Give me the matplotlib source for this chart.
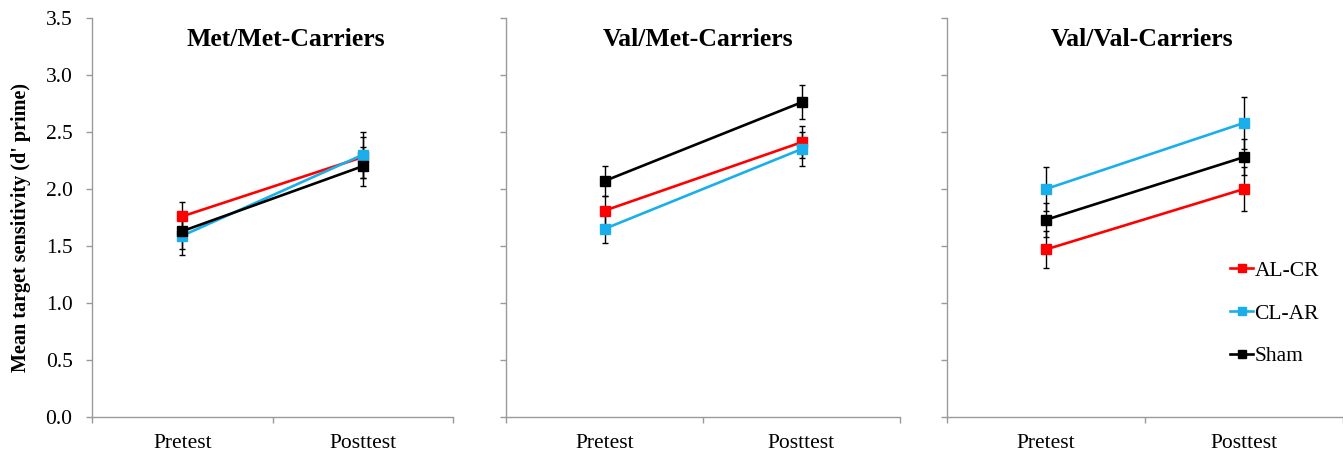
import matplotlib
matplotlib.use('Agg')
import matplotlib.pyplot as plt
from matplotlib.lines import Line2D

# data
groups   = ['Met/Met-Carriers', 'Val/Met-Carriers', 'Val/Val-Carriers']
sessions = ['Pretest', 'Posttest']

al_cr_mean = [[1.76, 2.28], [1.81, 2.41], [1.47, 2.00]]
al_cr_err  = [[0.13, 0.18], [0.13, 0.14], [0.16, 0.19]]
cl_ar_mean = [[1.59, 2.30], [1.65, 2.35], [2.00, 2.58]]
cl_ar_err  = [[0.17, 0.20], [0.12, 0.15], [0.19, 0.23]]
sham_mean  = [[1.63, 2.20], [2.07, 2.76], [1.73, 2.28]]
sham_err   = [[0.16, 0.17], [0.13, 0.15], [0.15, 0.16]]

series = [
    ('AL-CR', al_cr_mean, al_cr_err, '#FF0000'),
    ('CL-AR', cl_ar_mean, cl_ar_err, '#1AAFEA'),
    ('Sham',  sham_mean,  sham_err,  '#000000'),
]

plt.rcParams['font.family'] = ['Liberation Serif', 'DejaVu Serif']
SPINE = '#9a9a9a'

fig = plt.figure(figsize=(13.43, 4.54), dpi=100)
W, H = 1343, 454
boxes = [(92, 453), (506, 900), (947, 1343)]
title_x = [0.537, 0.487, 0.492]   # titles are not quite centred in the original
y_bot, y_top = 417, 18

axes = []
for gi, (x0, x1) in enumerate(boxes):
    ax = fig.add_axes([x0 / W, 1 - y_bot / H, (x1 - x0) / W, (y_bot - y_top) / H])
    axes.append(ax)
    x = list(range(len(sessions)))
    for name, means, errs, col in series:
        ax.errorbar(x, means[gi], yerr=errs[gi], color=col, lw=1.9,
                    marker='s', ms=7, mec=col, mfc=col,
                    ecolor='black', elinewidth=1.0, capsize=2.5, capthick=1.0,
                    zorder=3)
    ax.set_xlim(-0.5, 1.5)
    ax.set_ylim(0, 3.5)
    ax.set_yticks([0, 0.5, 1.0, 1.5, 2.0, 2.5, 3.0, 3.5])
    if gi == 0:
        ax.set_yticklabels([f'{v:.1f}' for v in ax.get_yticks()], fontsize=15.5)
        ax.set_ylabel("Mean target sensitivity (d' prime)", fontsize=14.5,
                      fontweight='bold')
        ax.yaxis.set_label_coords(-0.17, 0.474)
    else:
        ax.set_yticklabels([])
    ax.set_xticks([-0.5, 0.5, 1.5])
    ax.set_xticklabels([])
    ax.set_xticks(x, minor=True)
    ax.set_xticklabels(sessions, minor=True, fontsize=15.5)
    ax.tick_params(axis='x', which='minor', length=0, pad=12)
    ax.tick_params(axis='both', which='major', length=4, color=SPINE, width=1)
    ax.tick_params(axis='y', pad=10)
    for s in ['top', 'right']:
        ax.spines[s].set_visible(False)
    for s in ['left', 'bottom']:
        ax.spines[s].set_color(SPINE)
        ax.spines[s].set_linewidth(1)
    ax.set_title(groups[gi], fontsize=18.5, fontweight='bold',
                 x=title_x[gi], y=0.91)

handles = [Line2D([], [], color=col, lw=1.9, marker='s', ms=6, label=name)
           for name, _, _, col in series]
axes[2].legend(handles=handles, loc='upper left', bbox_to_anchor=(0.665, 0.44),
               frameon=False, fontsize=15.5, handlelength=1.1,
               handletextpad=0.05, labelspacing=1.05)

fig.savefig('out.png', dpi=100)
